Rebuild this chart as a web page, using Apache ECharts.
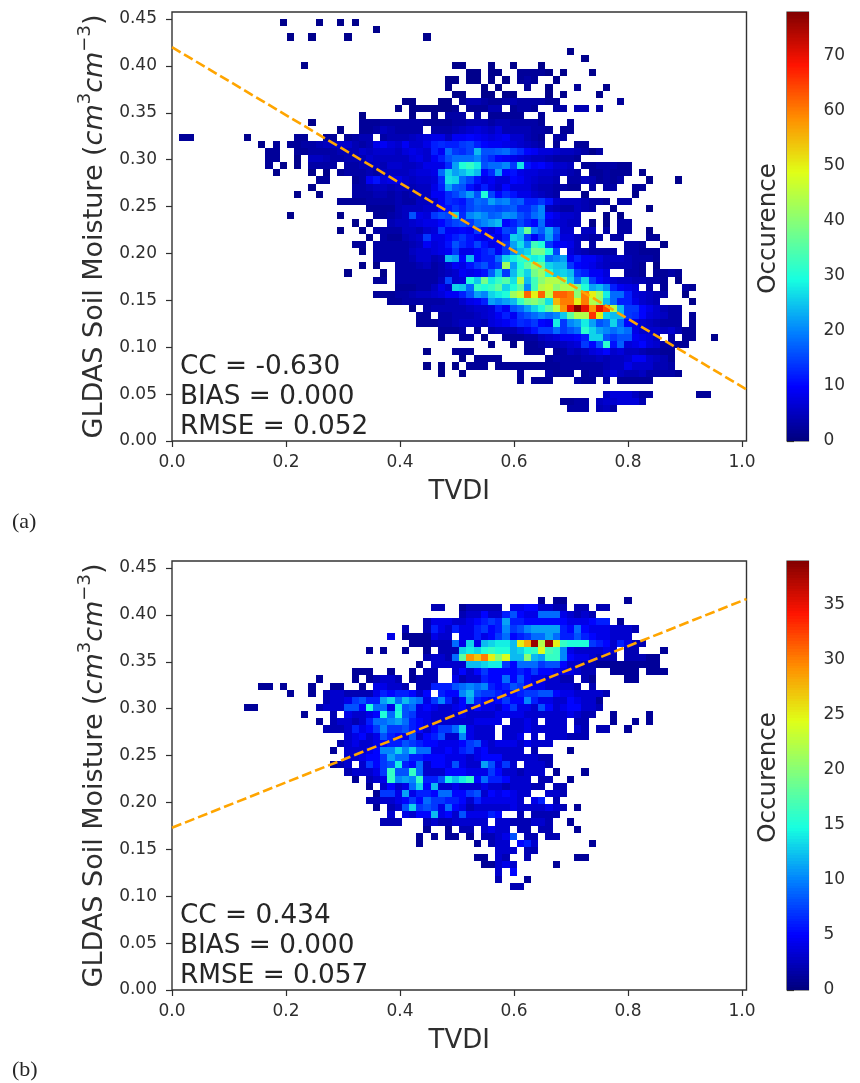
<!DOCTYPE html>
<html><head><meta charset="utf-8">
<style>html,body{margin:0;padding:0;background:#fff}#c{width:860px;height:1083px}</style>
<script src="https://cdn.jsdelivr.net/npm/echarts@6/dist/echarts.min.js"></script>
</head><body><div id="c"></div>
<script>
// Each entry: [row from top, first column, [counts...]]; 0 = empty bin
const cellsA = [
[1,15,[1]],[1,20,[1]],[1,23,[1]],[1,25,[1]],[2,28,[1]],
[3,16,[1]],[3,19,[1]],[3,24,[1]],[3,35,[1]],
[5,55,[1]],[6,57,[1]],
[7,18,[1]],[7,39,[1,1]],[7,44,[1]],[7,47,[1]],[7,51,[1]],
[8,41,[1,1,0,1,1]],[8,48,[2,2,2,2,1]],[8,54,[1]],[8,58,[1]],
[9,38,[1,1]],[9,41,[1,1,0,1,0,1]],[9,48,[2,3,2]],[9,53,[1]],
[10,38,[1]],[10,43,[1]],[10,45,[1]],[10,49,[2]],[10,52,[1]],[10,56,[2]],[10,60,[1]],
[11,39,[1,1]],[11,43,[1,1]],[11,46,[1,1]],[11,52,[1]],[11,54,[1]],[11,59,[1]],
[12,32,[1,1]],[12,37,[1,1]],[12,40,[2,4,4,3,2,2,3,4,3,3,3,3,2]],[12,53,[2]],[12,62,[2]],
[13,31,[1]],[13,33,[1,1,1,1,1,1,2]],[13,41,[2,2,2,4,4,0,2,3,3,2]],[13,53,[3,3]],[13,56,[4,4]],[13,59,[3]],
[14,26,[1]],[14,33,[1]],[14,36,[1]],[14,38,[3,3,3]],[14,42,[3]],[14,44,[2,2,2,2,2]],[14,51,[2]],
[15,19,[1]],[15,26,[2,2,2,3,3,3,3,3,3,2,2,2,2,3,3,4,4,4,3,4,4,3,3,3,3,2]],[15,55,[2]],
[16,23,[1]],[16,26,[2,2,3,5,4,3,3,3,3,0,3,3,3,4,5,6,7,6,5,7,4,4,4,4,3,3,2]],[16,54,[2,2]],
[17,1,[2,2]],[17,10,[1]],[17,17,[2,2]],[17,21,[2,2]],[17,24,[2,3,4,4]],[17,29,[3,4,4,4,5,6,7,8,8,5,9,9,10,9,8,7,8,9,6,6,4,3,2]],[17,53,[3,3]],
[18,12,[1]],[18,14,[2]],[18,16,[2,2,3,3,4,5,5,6,6,4,3,4,8,9,7,6,9,6,6,8,12,13,12,12,14,15,12,10,9,9,8,7,6,5,4,3]],[18,53,[2]],[18,56,[2,2]],
[19,13,[2,2]],[19,17,[2,2,3,3,3,3,4,4,4,6,5,6,6,6,5,7,8,7,6,12,9,18,14,13,15,24,16,16,17,18,15,13,10,9,7,7,6,5,5,4,3,3,3]],[19,58,[1]],
[20,13,[2,2]],[20,17,[1]],[20,19,[5,5,4,3,3,4,4,4,6,5,5,5,5,5,7,8,6,9,12,16,18,18,18,20,15,13,10,9,8,7,6,5,5,4,3,3,3,2]],
[21,13,[2]],[21,15,[1]],[21,17,[1]],[21,19,[3,3,3,3]],[21,24,[3,3,4,4,5,4,6,6,5,5,6,8,8,8,13,22,30,32,28,16,18,18,20,14,27,11,9,10,8,6,6,5]],[21,57,[2,2,3,3,3,2,2]],
[22,14,[1]],[22,19,[1]],[22,21,[1]],[22,23,[2,3,3,3,4,3,5,5,5,5,6,7,7,8,18,26,22,24,27,24,10,13,22,10,11,8,7,7,6,6,5,5,4,3]],[22,58,[2,2,3,2,2,2]],[22,65,[1]],
[23,20,[2,2]],[23,25,[2,3,9,11,7,8,8,6,5,6,6,7,13,27,26,18,15,11,8,9,7,7,10,9,7,6,5,5,4]],[23,55,[3,3,5,4,2,3,2,3]],[23,66,[1]],[23,70,[1]],
[24,19,[1]],[24,25,[3,3,4,5,5,4,5,5,4,5,5,8,12,22,17,16,11,8,12,8,6,10,7,7,7,5,4,4,3,3,2,2]],[24,58,[3]],[24,60,[3,3]],[24,64,[2,2]],
[25,17,[1]],[25,20,[1]],[25,25,[3,3,3,4,4,3,4,3,4,5,5,9,9,13,15,18,22,16,30,15,10,13,11,8,8,6,5,4,3]],[25,57,[1]],[25,64,[1]],
[26,23,[2,2,2,2,3,3,3,3,4,3,3,5,5,6,9,13,12,11,15,18,17,22,19,20,16,17,12,12,14,11,6,5,5,5,4,3,3,2]],[26,62,[3,3]],
[27,27,[2,2,2,2,4,5,5,5,6,6,10,11,14,12,15,17,16,16,15,16,17,13,13,16,20,5,4,3,3,5,4,3]],[27,61,[1]],[27,66,[1]],
[28,16,[1]],[28,23,[1]],[28,28,[2,2,3,4,5,16,8,7,14,16,15,26,13,20,22,20,17,18,21,20,16,14,18,20,10,8,6,6,5]],[28,60,[1]],[28,62,[1]],
[29,25,[1]],[29,27,[1]],[29,30,[4,5,5,6,7,8,8,10,13,15,16,14,18,20,22,24,10,12,15,12,10,18,8,7,6,5,5]],[29,58,[1]],[29,60,[1]],[29,62,[3,3]],
[30,23,[1]],[30,26,[1]],[30,28,[3,3,3,3,5,5,4,6,7,14,9,9,10,9,14,9,7,10,15,14,25,37,20,17,23,16,6,6]],[30,57,[5,5]],[30,60,[3]],[30,62,[3,3]],[30,66,[1]],
[31,27,[1]],[31,29,[3,2,2,4,5,6,14,8,8,10,12,14,11,9,8,10,8,12,26,24,14,9,14,22,14,7,7,5,4,3,3]],[31,61,[3,3]],[31,66,[2,2]],
[32,25,[2,2]],[32,28,[3,3,3,3,3,4,5,9,7,8,11,16,13,11,15,11,8,9,14,22,27,20,33,30,14,10,9,8,5]],[32,58,[3]],[32,63,[3,3,2]],[32,68,[1]],
[33,26,[1]],[33,28,[3,3,3,3,3,5,6,6,7,8,9,14,8,8,10,12,14,9,14,20,24,26,38,38,30,15]],[33,55,[7,5,4,3,3,3,3]],[33,63,[3,3,2,2,2]],
[34,28,[3,3,3,3,3,4,6,6,4,5,24,22,10,24,10,12,12,18,26,28,32,30,28,30,18,20,22,9,12,9,9,7,5,5,5,4,3,3,3,2]],
[35,26,[1]],[35,28,[1]],[35,31,[3,3,3,4,5,3,4,6,9,8,11,14,16,12,14,42,22,30,36,42,36,26,24,24,14,10,9,8,6,5,4,4,4,3,2]],[35,67,[1]],
[36,24,[1]],[36,29,[1]],[36,31,[3,3,3,3,3,3,4,5,6,9,8,9,11,17,25,14,24,32,26,38,42,30,25,26,24,14,12,9,9,7]],[36,63,[3,3,2]],[36,67,[2,2,3,2]],
[37,28,[2,2]],[37,31,[3,3,3,3,3,3,5,15,6,7,30,25,38,28,32,35,27,44,24,33,40,44,44,40,26,18,26,14,10,8,6,5,5,4,4,3,3,2]],[37,70,[1]],
[38,31,[2,2,2,3,3,5,8,6,26,25,18,32,30,32,36,26,30,36,20,33,44,46,40,44,44,38,30,22,24,20,12,9,8,7]],[38,66,[3]],[38,68,[2]],[38,71,[3,2]],
[39,28,[2,2,2,3,3,4,5,5,6,7,9,9,12,16,22,20,26,28,30,42,46,62,50,62,45,62,62,60,40,60,50,42,28,18,18,12,7,6,5,4,3]],[39,71,[1]],
[40,30,[2,2,3,3,3,3,3,3,4,4,6,8,9,12,22,20,22,24,32,38,40,36,27,55,60,60,50,60,44,40,24,18,12,12,8,6,5,4]],[40,72,[1]],
[41,33,[1]],[41,35,[3,4,4,4,4,4,5,6,6,7,12,9,16,18,22,26,30,36,45,58,70,78,70,58,70,64,44,24,14,14,10,8,6,4,3,3]],
[42,34,[2,2]],[42,37,[3,3,4,4,4,5,6,7,9,12,9,14,16,18,20,18,20,25,36,44,44,66,50,26,24,24,14,13,10,7,6,5]],[42,69,[3,3]],[42,72,[2]],
[43,34,[2,2,2,3,3,4,5,5,5,4,7,8,9,11,13,12,14,10,9,28,14,20,22,28,22,16,18,26,18,10,8,6,5,4,3,3,3]],[43,72,[2]],
[44,37,[2,2,2,3]],[44,42,[2]],[44,44,[3,4,4,4,6,8,11,14,14,18,14,16,18,31,26,22,20,18,20,18,8,6,6,6,5,6,4,2,2]],
[45,37,[1]],[45,40,[2,2]],[45,43,[1]],[45,46,[2,2,2,3,3,5,6,7,9,9,10,12,26,26,16,14,16,16,9,8,7,5]],[45,69,[3]],[45,71,[2,2]],[45,75,[1]],
[46,44,[1]],[46,47,[1]],[46,49,[2,2,3,4,4,5,6,7,14,10,16,31,11,17,7,8,10,7,6,3,3,2,2]],
[47,35,[1]],[47,39,[2,2,2]],[47,49,[2,2,2]],[47,53,[2,3,5,4,5,7,8,10,6,7,5,5,4,3,3,2,2]],
[48,40,[1]],[48,42,[2,2,2,2]],[48,52,[2,3,3,3,3,4,4,5,4,5,5,6,9,9,6,5,4,2]],
[49,35,[1]],[49,37,[1]],[49,39,[1]],[49,41,[2,2,2]],[49,45,[2,2,2,2,2,2,2,2,2,3,3,3,3,3,3,4,5,5,8,6,6,6,4,4,3]],
[50,37,[1]],[50,40,[1]],[50,48,[2]],[50,52,[3,2,2,2]],[50,57,[2,3,3,5,7,5,4,4,5,3,3,3,3,2]],
[51,48,[2]],[51,50,[2,2,2]],[51,56,[3,2,2]],[51,60,[3]],[51,62,[2,2,2,2,2]],
[53,60,[5,7,7,7,5,3,3]],[53,73,[2,2]],
[54,54,[2,2,3,3]],[54,59,[5,6,6,7,7,7,4]],
[55,55,[3,3,3]],[55,59,[4,5,3]]
];
const cellsB = [
[5,51,[1]],[5,53,[1,1]],[5,63,[1]],
[6,36,[2,2]],[6,40,[1,2,2,2,2,2]],[6,47,[4,4,5,5,3,3,2,2]],[6,56,[2,2]],[6,59,[2,2]],
[7,40,[2,3,3,5,3,3,6,8,5,4,4,9,9,9,4,3,2,3,2]],
[8,35,[2,4,4,4,3,3,4,5,6,7,6,11,6,6,5,5,5,5,5,5,4,4,4,5,6,6]],[8,62,[1]],
[9,32,[2]],[9,35,[2,6,4,3,6,4,4,6,7,5,6,10,7,8,10,11,11,11,11,6,5,9,5,4,4,4,3,3,3,2]],
[10,30,[4]],[10,32,[1,1,1,1,4,3,3,0,4,4,6,4,5,7,9,5,6,7,9,9,11,9,6,6,8,6,5,4,4,3,3,3]],
[11,33,[1,1,1,2,2,2,9,4,13,4,12,13,14,14,12,25,28,38,22,38,25,16,15,15,15,7,6,5,3,6,4,2,2]],
[12,27,[1]],[12,29,[1]],[12,32,[1]],[12,35,[1]],[12,37,[2,2,2,13,14,13,15,16,15,15,12,13,15,16,24,17,16,10,4,3,3,3,3,4,3]],[12,63,[2,2]],[12,68,[1]],
[13,35,[2,3,3,2,9,18,29,27,30,25,20,24,12,12,20,12,11,16,16,10,5,4,4,3,2,2,2]],[13,63,[2,2,2,1,1]],
[14,34,[1]],[14,36,[3,3,3,3,3,12,12,13,14,14,7,5,9,9,9,7,8,8,5,3,3,2,2,1,1,1,1,1,1,1,1,1]],
[15,25,[1,1,1]],[15,30,[1]],[15,33,[1]],[15,35,[2,2]],[15,39,[3,5,3,5,7,5,5,5,5,6,5,7,5,5,4,4,4,3,2,2]],[15,61,[1,1,1,1]],[15,66,[1,1,1]],
[16,20,[1]],[16,25,[1]],[16,27,[1,2,3,3,2]],[16,33,[1,2,2,2]],[16,39,[4,2,3,3,6,5,5,9,5,8,5,4,4,3,3,2,2]],[16,57,[2,1]],[16,63,[1,1]],
[17,12,[1,1]],[17,15,[1]],[17,19,[1]],[17,22,[1,1]],[17,26,[1]],[17,28,[4,4,3,3,2]],[17,34,[2,2,6,6,6,8,9,10,9,10,6,5,6,8,7,5,4,4,3,3,3,3,2]],[17,58,[2]],
[18,16,[1]],[18,19,[1]],[18,21,[2,3,3,2,2,2,2,4,6,5,6,6,5,3,5]],[18,37,[6,5,5,10,12,8,7,7,6,5,5,6,7,7,8,8,5,4,4,3,3,3,3,2]],
[19,21,[2,3,3,4,7,8,6,6,11,13,9,12,10,9,4,7,10,6,3,5,11,6,5,4,5,7,5,5,10,6,4,4,3,3,5,4,3,3]],[19,59,[1]],
[20,10,[1,1]],[20,20,[2,3,3,3,8,8,5,15,9,9,4,14,8,9,4,5,4,3,3,4,5,3,5,4,4,3,5,7,4,4,3,8,5,3,4,5,5,3,3,2]],
[21,18,[1]],[21,22,[2]],[21,24,[4,3,3,4,5,15,9,15,8,7,4,4,3,3,3,3,4,3,3,3,3,4,4,4,4,3,3,3,3,3]],[21,54,[3,4,3,2,2]],[21,61,[1]],[21,66,[1]],
[22,20,[1]],[22,22,[2,3,3,2,3,6,9,9,10,11,9,6,5,4,3,3,3,3,3,3,4,4,4,4]],[22,47,[3,3,4,3]],[22,52,[3,3,3]],[22,56,[2,2]],[22,61,[1]],[22,64,[1]],[22,66,[1]],
[23,21,[2,2,2,3,6,4,5,7,10,7,7,8,6,5,3,5,7,7,9,13,4,3,3,3]],[23,46,[3,3,3,4,3,3,3,3,3]],[23,56,[3,2]],[23,59,[2,2]],[23,63,[1]],
[24,24,[3,4,5,3,4,8,6,5,4,8,3,5,6,8,3,3,10,4,3,3,3]],[24,46,[3,3,4]],[24,50,[3]],[24,52,[3,3,3,2,2,2]],
[25,23,[2,3,4,3,3,4,5,6,6,8,7,6,5,5,4,4,4,5,7,8,4,3,4,4,4,3,4,3,3,3]],
[26,22,[1]],[26,24,[3,3,3,4,5,10,10,13,10,13,9,9,4,4,5,4,6,7,4,5,3,3,3,3,3]],[26,50,[2]],[26,55,[1]],
[27,24,[3,3,4,5,5,7,11,9,9,6,6,5,5,5,4,4,4,3,4,5,5,5,3,3,3,3,3,2,2]],
[28,22,[1,2,3]],[28,26,[3,7,5,7,8,14,6,5,9,3,5,5,4,8,4,3,3,11,8,4,7,3]],[28,49,[3,3,3,2]],
[29,24,[2,3,3,3,4,7,16,8,8,16,9,3,3,3,5,5,5,4,4,4,7,5,3,3,2,3,3,3]],[29,53,[1]],[29,57,[1]],
[30,25,[1]],[30,27,[2,3,4,16,10,11,10,16,6,6,8,14,12,14,16,5,9,6,6,5,3,3,3]],[30,51,[2,2]],[30,55,[1]],
[31,27,[1]],[31,29,[3,5,3,4,9,13,5,12,3,3,4,3,3,3,4,3,3,2,3,3,3]],[31,50,[2,2]],[31,53,[2,2]],
[32,28,[1,7,7,4,11,4,6,6,5,9,9,5,5,7,8,3,5,4,5,4,3,3]],[32,52,[3,3,2]],
[33,27,[2,2,3,3,4,5,7,5,9,7,7,6,6,5,3,6,4,4,4,4,4,3]],[33,50,[4,6]],[33,53,[2]],
[34,28,[1]],[34,30,[2,3,8,13,7,8,7,4,9,5,4,2,3,3,3,3,3,4,3,3,3,3,4,3,2]],[34,56,[1]],
[35,30,[3]],[35,32,[4,3,5,5,12,4,5,3,8,4,4,4,6,5]],[35,48,[2]],[35,50,[2,2,2,2]],
[36,29,[2,2,2]],[36,35,[2,3,2,2,3,3,3,3,3]],[36,45,[3,3,2,2,2,3,3,2]],[36,55,[1]],
[37,35,[1]],[37,38,[1]],[37,40,[2,2]],[37,43,[3,4,3,3]],[37,48,[2,2]],[37,51,[2,2]],[37,56,[1]],
[38,34,[1]],[38,36,[1]],[38,38,[1,1]],[38,41,[1]],[38,43,[2,2,3,4,8]],[38,49,[2,2]],[38,52,[2,2]],
[39,34,[1]],[39,42,[1]],[39,44,[2,3,3]],[39,48,[5,6,3]],[39,58,[1]],
[40,45,[3,3,3]],[40,49,[2,2]],
[41,42,[1,1]],[41,45,[3,2]],[41,49,[2]],[41,56,[1,1]],
[42,43,[1,1,3,4,3]],[42,53,[1]],
[43,45,[3]],[43,47,[5]],
[44,45,[2]],[44,49,[1]],
[45,47,[2,2]]
];
const xTicks = [0,0.2,0.4,0.6,0.8,1.0];
const yTicks = [0,0.05,0.10,0.15,0.20,0.25,0.30,0.35,0.40,0.45];
const cbTicksA = [0,10,20,30,40,50,60,70];
const cbTicksB = [0,5,10,15,20,25,30,35];
const lineA = [[0,0.42],[1.008,0.055]];
const lineB = [[0,0.173],[1.008,0.417]];
const statsA = ['CC = -0.630','BIAS = 0.000','RMSE = 0.052'];
const statsB = ['CC = 0.434','BIAS = 0.000','RMSE = 0.057'];
const maxA = 78, maxB = 39;
const xMax = 1.008, yMax = 0.4575, nX = 80, nY = 60;

const binW = xMax/nX, binH = yMax/nY;
function toData(cells){
  const out=[];
  cells.forEach(([r,c,vals])=>vals.forEach((v,i)=>{ if(v>0) out.push([(c+i)*binW, yMax-(r+1)*binH, v]); }));
  return out;
}
const jet=['#00007f','#0000ff','#007fff','#17ffe0','#7fff7f','#e0ff17','#ff8f00','#ff1300','#7f0000'];
const dark='#2e2e2e';
const font='DejaVu Sans';
function rect(w,h){return function(params,api){
  const a=api.coord([api.value(0),api.value(1)+h]);
  const b=api.coord([api.value(0)+w,api.value(1)]);
  const x0=Math.round(a[0]),x1=Math.round(b[0]),y0=Math.round(a[1]),y1=Math.round(b[1]);
  return {type:'rect',shape:{x:x0,y:y0,width:x1-x0,height:y1-y0},style:{fill:api.visual('color')}};
};}
const tops=[12,561], H=429, L=172, W=574.5, cbL=787, cbW=21.5;
const grids=[],xAxes=[],yAxes=[],series=[],vms=[],graphics=[];
function panel(i,cells,line,stats,vmax,cbTicks,tag,tagY){
  const top=tops[i];
  grids.push({left:L,top:top,width:W,height:H,show:true,borderColor:'#333',borderWidth:1.4,backgroundColor:'#fff'});
  grids.push({left:cbL,top:top,width:cbW,height:H,show:true,borderColor:'#333',borderWidth:1.2,backgroundColor:'#fff'});
  const mi=i*2, ci=i*2+1;
  xAxes.push({gridIndex:mi,type:'value',min:0,max:xMax,splitLine:{show:false},axisLine:{show:false},
    axisTick:{show:true,length:6,lineStyle:{color:dark,width:1.2},customValues:xTicks},
    axisLabel:{color:dark,fontFamily:font,fontSize:17,margin:13,customValues:xTicks,formatter:v=>v.toFixed(1)},
    name:'TVDI',nameLocation:'middle',nameGap:38,nameTextStyle:{color:dark,fontFamily:font,fontSize:26}});
  const yN={color:dark,fontFamily:font,fontSize:27,lineHeight:36};
  yAxes.push({gridIndex:mi,type:'value',min:0,max:yMax,splitLine:{show:false},axisLine:{show:false},
    axisTick:{show:true,length:6,lineStyle:{color:dark,width:1.2},customValues:yTicks},
    axisLabel:{color:dark,fontFamily:font,fontSize:17,margin:15,customValues:yTicks,formatter:v=>v.toFixed(2)},
    name:'{a|GLDAS Soil Moisture (}{b|cm}{s|3}{b|cm}{s|−3}{a|)}',nameLocation:'middle',nameGap:56,
    nameTextStyle:{rich:{a:yN,b:Object.assign({},yN,{fontStyle:'italic'}),
      s:{color:dark,fontFamily:font,fontSize:18,lineHeight:20,verticalAlign:'top'}}}});
  xAxes.push({gridIndex:ci,type:'value',min:0,max:1,show:false});
  yAxes.push({gridIndex:ci,type:'value',min:0,max:vmax,position:'right',splitLine:{show:false},axisLine:{show:false},
    axisTick:{show:true,length:7,lineStyle:{color:dark,width:1.2},customValues:cbTicks},
    axisLabel:{color:dark,fontFamily:font,fontSize:17,margin:15,customValues:cbTicks}});
  const hs=series.length;
  series.push({type:'custom',xAxisIndex:mi,yAxisIndex:mi,coordinateSystem:'cartesian2d',renderItem:rect(binW,binH),
    data:toData(cells),dimensions:['x','y','n'],encode:{x:0,y:1},silent:true,clip:true,z:2});
  series.push({type:'line',xAxisIndex:mi,yAxisIndex:mi,data:line,symbol:'none',silent:true,z:5,
    lineStyle:{color:'#ffa500',width:2.6,type:[10,4]}});
  const levels=[];for(let k=0;k<vmax*4;k++)levels.push([0,k/4,k/4]);
  series.push({type:'custom',xAxisIndex:ci,yAxisIndex:ci,coordinateSystem:'cartesian2d',renderItem:rect(1,0.25),
    data:levels,dimensions:['x','y','n'],encode:{x:0,y:1},silent:true,z:2});
  vms.push({show:false,type:'continuous',seriesIndex:[hs,hs+2],dimension:2,min:0,max:vmax,inRange:{color:jet}});
  stats.forEach((s,k)=>graphics.push({type:'text',left:180,top:top+342+k*30,z:10,
    style:{text:s,fill:'#262626',font:'26.3px "DejaVu Sans"'}}));
  graphics.push({type:'text',rotation:Math.PI/2,x:769,y:top+H/2+2,z:10,
    style:{text:'Occurence',fill:dark,font:'24.5px "DejaVu Sans"',align:'center',verticalAlign:'middle'}});
  graphics.push({type:'text',left:12,top:tagY,z:10,style:{text:tag,fill:'#262626',font:'22px "Liberation Serif"'}});
}
panel(0,cellsA,lineA,statsA,maxA,cbTicksA,'(a)',511);
panel(1,cellsB,lineB,statsB,maxB,cbTicksB,'(b)',1059);
const chart=echarts.init(document.getElementById('c'),null,{renderer:'canvas'});
chart.setOption({animation:false,backgroundColor:'#fff',grid:grids,xAxis:xAxes,yAxis:yAxes,series,visualMap:vms,graphic:graphics});
</script></body></html>
